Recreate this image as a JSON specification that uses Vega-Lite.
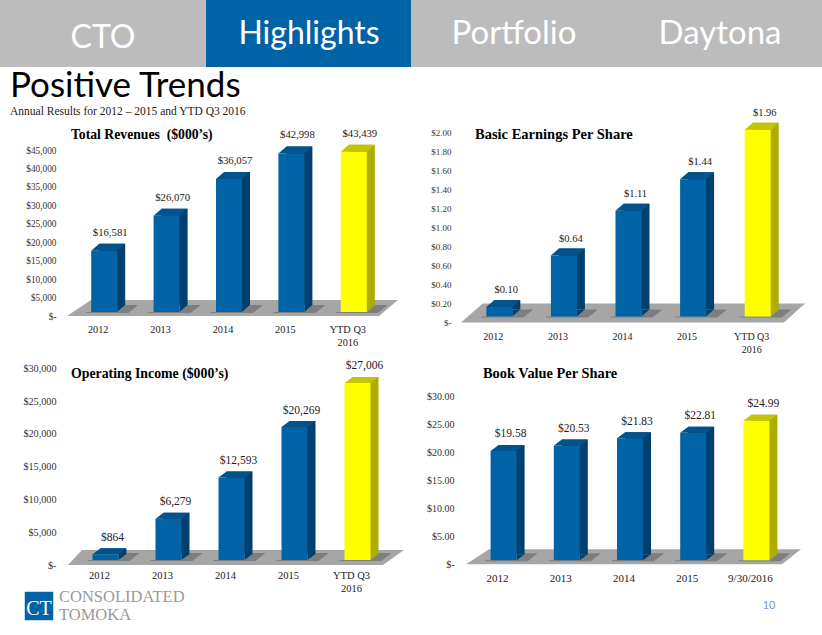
{
"$schema":"https://vega.github.io/schema/vega-lite/v6.json",
"background":"white","padding":0,"spacing":0,"bounds":"flush","align":"each","columns":2,
"config":{"view":{"stroke":null},"font":"Liberation Serif"},
"datasets":{
"navL":[{"tab":"CTO","active":false,"row":"nav"},{"tab":"Highlights","active":true,"row":"nav"}],
"navR":[{"tab":"Portfolio","active":false,"row":"nav"},{"tab":"Daytona","active":false,"row":"nav"}],
"rev":[{"period":"2012","value":16581,"ytd":false},{"period":"2013","value":26070,"ytd":false},{"period":"2014","value":36057,"ytd":false},{"period":"2015","value":42998,"ytd":false},{"period":"YTD Q3 2016","value":43439,"ytd":true}],
"eps":[{"period":"2012","value":0.10,"ytd":false},{"period":"2013","value":0.64,"ytd":false},{"period":"2014","value":1.11,"ytd":false},{"period":"2015","value":1.44,"ytd":false},{"period":"YTD Q3 2016","value":1.96,"ytd":true}],
"inc":[{"period":"2012","value":864,"ytd":false},{"period":"2013","value":6279,"ytd":false},{"period":"2014","value":12593,"ytd":false},{"period":"2015","value":20269,"ytd":false},{"period":"YTD Q3 2016","value":27006,"ytd":true}],
"bvs":[{"period":"2012","value":19.58,"ytd":false},{"period":"2013","value":20.53,"ytd":false},{"period":"2014","value":21.83,"ytd":false},{"period":"2015","value":22.81,"ytd":false},{"period":"9/30/2016","value":24.99,"ytd":true}],
"logo":[{"part":"CT","line":"mid","text":"CT"},{"part":"name","line":"top","text":"CONSOLIDATED"},{"part":"name","line":"bottom","text":"TOMOKA"}],
"page":[{"part":"page","text":"10"}]
},
"concat":[
{"width":411,"height":67,"data":{"name":"navL"},
"title":{"text":"Positive Trends","subtitle":"Annual Results for 2012 – 2015 and YTD Q3 2016","orient":"bottom","anchor":"start","frame":"group","dx":10,"offset":2,"font":"Lato","fontSize":35,"fontWeight":"normal","color":"#000000","subtitleFont":"Liberation Serif","subtitleFontSize":11.5,"subtitleColor":"#222222","subtitlePadding":2},
"encoding":{"x":{"field":"tab","type":"nominal","sort":null,"axis":null,"scale":{"range":[0,412],"paddingInner":0,"paddingOuter":0}},"y":{"field":"row","type":"nominal","axis":null,"scale":{"range":[0,67],"paddingInner":0,"paddingOuter":0}}},
"layer":[
{"mark":{"type":"bar","width":{"band":1},"height":{"band":1}},"encoding":{"color":{"condition":{"test":"datum.active","value":"#0063a6"},"value":"#bcbcbc"}}},
{"mark":{"type":"text","font":"Lato","fontSize":32,"color":"#ffffff","baseline":"middle"},"transform":[{"filter":"datum.tab==='CTO'"}],"encoding":{"text":{"field":"tab"},"y":{"field":"row","type":"nominal","axis":null,"bandPosition":0.57}}},
{"mark":{"type":"text","font":"Lato","fontSize":32,"color":"#ffffff","baseline":"middle"},"transform":[{"filter":"datum.tab!=='CTO'"}],"encoding":{"text":{"field":"tab"}}}
]},
{"width":411,"height":67,"data":{"name":"navR"},
"encoding":{"x":{"field":"tab","type":"nominal","sort":null,"axis":null,"scale":{"range":[0,412],"paddingInner":0,"paddingOuter":0}},"y":{"field":"row","type":"nominal","axis":null,"scale":{"range":[0,67],"paddingInner":0,"paddingOuter":0}}},
"layer":[
{"mark":{"type":"bar","width":{"band":1},"height":{"band":1},"color":"#bcbcbc"}},
{"mark":{"type":"text","font":"Lato","fontSize":33,"color":"#ffffff","baseline":"middle"},"encoding":{"text":{"field":"tab"}}}
]},
{"width":411,"height":273,"data":{"name":"rev"},
"title":{"text":"Total Revenues \u00a0($000’s)","anchor":"start","frame":"group","dx":71,"offset":-75,"font":"Liberation Serif","fontSize":13.7,"fontWeight":"bold","color":"#000000"},
"encoding":{
"x":{"field":"period","type":"nominal","sort":null,"title":null,"scale":{"range":[67,379],"paddingInner":0,"paddingOuter":0},"axis":{"orient":"bottom","offset":-16,"domain":false,"ticks":false,"labelPadding":0,"labelAngle":0,"labelBaseline":"top","labelFontSize":10.3,"labelColor":"#222222","labelLineHeight":13,"labelOverlap":false,"labelExpr":"datum.value==='YTD Q3 2016'?['YTD Q3','2016']:datum.value"}},
"y":{"field":"value","type":"quantitative","title":null,"scale":{"domain":[0,45000],"range":[249,83],"nice":false},"axis":{"offset":-56,"domain":false,"ticks":false,"grid":false,"labelPadding":0,"labelFontSize":9.3,"labelColor":"#333333","values":[0,5000,10000,15000,20000,25000,30000,35000,40000,45000],"labelExpr":"datum.value===0?'$-\u00a0\u00a0\u00a0':format(datum.value,'$,.0f')"}}},
"layer":[
{"transform":[{"filter":"datum.period==='2012'"}],"mark":{"type":"point","filled":true,"opacity":1,"size":4,"strokeWidth":0,"color":"#a6a6a6","shape":"M-31.2,0 L280.8,0 L299.8,-16 L-7.2,-16 Z"},"encoding":{"y":{"datum":0,"title":null}}},
{"mark":{"type":"point","filled":true,"opacity":1,"size":4,"strokeWidth":0,"color":"#7e7e7e","xOffset":6,"yOffset":-4,"shape":"M-18,0 L13,0 L21,-7 L34,-7 L24,1 L-18,1 Z"},"encoding":{"y":{"datum":0,"title":null}}},
{"mark":{"type":"bar","width":26,"xOffset":14,"yOffset":-11},"encoding":{"color":{"condition":{"test":"datum.ytd","value":"#adad00"},"value":"#00406e"}}},
{"mark":{"type":"point","filled":true,"opacity":1,"size":4,"strokeWidth":0,"xOffset":6,"yOffset":-4,"shape":"M13,0 L21,-7 L13,-7 Z"},"encoding":{"y":{"datum":0,"title":null},"color":{"condition":{"test":"datum.ytd","value":"#adad00"},"value":"#00406e"}}},
{"mark":{"type":"bar","width":26,"xOffset":6,"yOffset":-4},"encoding":{"color":{"condition":{"test":"datum.ytd","value":"#ffff00"},"value":"#0063a6"}}},
{"mark":{"type":"point","filled":true,"opacity":1,"size":4,"strokeWidth":0,"xOffset":6,"yOffset":-4,"shape":"M-13,0 L13,0 L21,-7 L-5,-7 Z"},"encoding":{"color":{"condition":{"test":"datum.ytd","value":"#c4c400"},"value":"#00538c"}}},
{"mark":{"type":"text","fontSize":10.7,"color":"#222222","baseline":"middle","xOffset":12,"yOffset":-22},"encoding":{"text":{"field":"value","type":"quantitative","format":"$,.0f"}}}
]},
{"width":411,"height":273,"data":{"name":"eps"},
"title":{"text":"Basic Earnings Per Share","anchor":"start","frame":"group","dx":64,"offset":-75,"font":"Liberation Serif","fontSize":14.5,"fontWeight":"bold","color":"#000000"},
"encoding":{
"x":{"field":"period","type":"nominal","sort":null,"title":null,"scale":{"range":[50,373],"paddingInner":0,"paddingOuter":0},"axis":{"orient":"bottom","offset":-9,"domain":false,"ticks":false,"labelPadding":0,"labelAngle":0,"labelBaseline":"top","labelFontSize":10,"labelColor":"#222222","labelLineHeight":13,"labelOverlap":false,"labelExpr":"datum.value==='YTD Q3 2016'?['YTD Q3','2016']:datum.value"}},
"y":{"field":"value","type":"quantitative","title":null,"scale":{"domain":[0,2],"range":[255.5,65],"nice":false},"axis":{"offset":-40,"domain":false,"ticks":false,"grid":false,"labelPadding":0,"labelFontSize":9,"labelColor":"#333333","values":[0,0.2,0.4,0.6,0.8,1,1.2,1.4,1.6,1.8,2],"labelExpr":"datum.value===0?'$-\u00a0\u00a0\u00a0':format(datum.value,'$.2f')"}}},
"layer":[
{"transform":[{"filter":"datum.period==='2012'"}],"mark":{"type":"point","filled":true,"opacity":1,"size":4,"strokeWidth":0,"color":"#a6a6a6","shape":"M-32.3,0 L290.7,0 L311.7,-19 L-10.6,-19 Z"},"encoding":{"y":{"datum":0,"title":null}}},
{"mark":{"type":"point","filled":true,"opacity":1,"size":4,"strokeWidth":0,"color":"#7e7e7e","xOffset":6,"yOffset":-6,"shape":"M-18,0 L13,0 L21,-7 L34,-7 L24,1 L-18,1 Z"},"encoding":{"y":{"datum":0,"title":null}}},
{"mark":{"type":"bar","width":26,"xOffset":14,"yOffset":-13},"encoding":{"color":{"condition":{"test":"datum.ytd","value":"#adad00"},"value":"#00406e"}}},
{"mark":{"type":"point","filled":true,"opacity":1,"size":4,"strokeWidth":0,"xOffset":6,"yOffset":-6,"shape":"M13,0 L21,-7 L13,-7 Z"},"encoding":{"y":{"datum":0,"title":null},"color":{"condition":{"test":"datum.ytd","value":"#adad00"},"value":"#00406e"}}},
{"mark":{"type":"bar","width":26,"xOffset":6,"yOffset":-6},"encoding":{"color":{"condition":{"test":"datum.ytd","value":"#ffff00"},"value":"#0063a6"}}},
{"mark":{"type":"point","filled":true,"opacity":1,"size":4,"strokeWidth":0,"xOffset":6,"yOffset":-6,"shape":"M-13,0 L13,0 L21,-7 L-5,-7 Z"},"encoding":{"color":{"condition":{"test":"datum.ytd","value":"#c4c400"},"value":"#00538c"}}},
{"mark":{"type":"text","fontSize":10.5,"color":"#222222","baseline":"middle","xOffset":13,"yOffset":-23},"encoding":{"text":{"field":"value","type":"quantitative","format":"$.2f"}}}
]},
{"width":411,"height":245,"data":{"name":"inc"},
"title":{"text":"Operating Income ($000’s)","anchor":"start","frame":"group","dx":71,"offset":-41,"font":"Liberation Serif","fontSize":13.8,"fontWeight":"bold","color":"#000000"},
"encoding":{
"x":{"field":"period","type":"nominal","sort":null,"title":null,"scale":{"range":[68,383],"paddingInner":0,"paddingOuter":0},"axis":{"orient":"bottom","offset":-15,"domain":false,"ticks":false,"labelPadding":0,"labelAngle":0,"labelBaseline":"top","labelFontSize":10.5,"labelColor":"#222222","labelLineHeight":13,"labelOverlap":false,"labelExpr":"datum.value==='YTD Q3 2016'?['YTD Q3','2016']:datum.value"}},
"y":{"field":"value","type":"quantitative","title":null,"scale":{"domain":[0,30000],"range":[225,28.3],"nice":false},"axis":{"offset":-56,"domain":false,"ticks":false,"grid":false,"labelPadding":0,"labelFontSize":10.2,"labelColor":"#333333","values":[0,5000,10000,15000,20000,25000,30000],"labelExpr":"datum.value===0?'$-\u00a0\u00a0\u00a0':format(datum.value,'$,.0f')"}}},
"layer":[
{"transform":[{"filter":"datum.period==='2012'"}],"mark":{"type":"point","filled":true,"opacity":1,"size":4,"strokeWidth":0,"color":"#a6a6a6","shape":"M-31.5,0 L283.5,0 L304.5,-15 L-17.5,-15 Z"},"encoding":{"y":{"datum":0,"title":null}}},
{"mark":{"type":"point","filled":true,"opacity":1,"size":4,"strokeWidth":0,"color":"#7e7e7e","xOffset":6,"yOffset":-5,"shape":"M-18,0 L13,0 L21,-7 L34,-7 L24,1 L-18,1 Z"},"encoding":{"y":{"datum":0,"title":null}}},
{"mark":{"type":"bar","width":26,"xOffset":14,"yOffset":-11},"encoding":{"color":{"condition":{"test":"datum.ytd","value":"#adad00"},"value":"#00406e"}}},
{"mark":{"type":"point","filled":true,"opacity":1,"size":4,"strokeWidth":0,"xOffset":6,"yOffset":-5,"shape":"M13,0 L21,-6 L13,-6 Z"},"encoding":{"y":{"datum":0,"title":null},"color":{"condition":{"test":"datum.ytd","value":"#adad00"},"value":"#00406e"}}},
{"mark":{"type":"bar","width":26,"xOffset":6,"yOffset":-5},"encoding":{"color":{"condition":{"test":"datum.ytd","value":"#ffff00"},"value":"#0063a6"}}},
{"mark":{"type":"point","filled":true,"opacity":1,"size":4,"strokeWidth":0,"xOffset":6,"yOffset":-5,"shape":"M-13,0 L13,0 L21,-6 L-5,-6 Z"},"encoding":{"color":{"condition":{"test":"datum.ytd","value":"#c4c400"},"value":"#00538c"}}},
{"mark":{"type":"text","fontSize":11.5,"color":"#222222","baseline":"middle","xOffset":13,"yOffset":-21.5},"encoding":{"text":{"field":"value","type":"quantitative","format":"$,.0f"}}}
]},
{"width":411,"height":245,"data":{"name":"bvs"},
"title":{"text":"Book Value Per Share","anchor":"start","frame":"group","dx":72,"offset":-41,"font":"Liberation Serif","fontSize":14.4,"fontWeight":"bold","color":"#000000"},
"encoding":{
"x":{"field":"period","type":"nominal","sort":null,"title":null,"scale":{"range":[55,371],"paddingInner":0,"paddingOuter":0},"axis":{"orient":"bottom","offset":-13,"domain":false,"ticks":false,"labelPadding":0,"labelAngle":0,"labelBaseline":"top","labelFontSize":11,"labelColor":"#222222","labelOverlap":false}},
"y":{"field":"value","type":"quantitative","title":null,"scale":{"domain":[0,30],"range":[224.3,56.7],"nice":false},"axis":{"offset":-43,"domain":false,"ticks":false,"grid":false,"labelPadding":0,"labelFontSize":10,"labelColor":"#333333","values":[0,5,10,15,20,25,30],"labelExpr":"datum.value===0?'$-\u00a0\u00a0\u00a0':format(datum.value,'$.2f')"}}},
"layer":[
{"transform":[{"filter":"datum.period==='2012'"}],"mark":{"type":"point","filled":true,"opacity":1,"size":4,"strokeWidth":0,"color":"#a6a6a6","shape":"M-31.6,0 L284.4,0 L303.4,-15 L-8.6,-15 Z"},"encoding":{"y":{"datum":0,"title":null}}},
{"mark":{"type":"point","filled":true,"opacity":1,"size":4,"strokeWidth":0,"color":"#7e7e7e","xOffset":6,"yOffset":-4,"shape":"M-18,0 L13,0 L21,-7 L34,-7 L24,1 L-18,1 Z"},"encoding":{"y":{"datum":0,"title":null}}},
{"mark":{"type":"bar","width":26,"xOffset":14,"yOffset":-10},"encoding":{"color":{"condition":{"test":"datum.ytd","value":"#adad00"},"value":"#00406e"}}},
{"mark":{"type":"point","filled":true,"opacity":1,"size":4,"strokeWidth":0,"xOffset":6,"yOffset":-4,"shape":"M13,0 L21,-6 L13,-6 Z"},"encoding":{"y":{"datum":0,"title":null},"color":{"condition":{"test":"datum.ytd","value":"#adad00"},"value":"#00406e"}}},
{"mark":{"type":"bar","width":26,"xOffset":6,"yOffset":-4},"encoding":{"color":{"condition":{"test":"datum.ytd","value":"#ffff00"},"value":"#0063a6"}}},
{"mark":{"type":"point","filled":true,"opacity":1,"size":4,"strokeWidth":0,"xOffset":6,"yOffset":-4,"shape":"M-13,0 L13,0 L21,-6 L-5,-6 Z"},"encoding":{"color":{"condition":{"test":"datum.ytd","value":"#c4c400"},"value":"#00538c"}}},
{"mark":{"type":"text","fontSize":11.5,"color":"#222222","baseline":"middle","xOffset":13,"yOffset":-20.5},"encoding":{"text":{"field":"value","type":"quantitative","format":"$.2f"}}}
]},
{"width":411,"height":50,"data":{"name":"logo"},
"encoding":{"x":{"field":"part","type":"nominal","axis":null,"scale":{"type":"point","padding":0,"domain":["CT","name"],"range":[39,59]}},"y":{"field":"line","type":"nominal","axis":null,"scale":{"type":"point","padding":0,"domain":["top","mid","bottom"],"range":[12,30]}}},
"layer":[
{"transform":[{"filter":"datum.part==='CT'"}],"mark":{"type":"point","shape":"square","filled":true,"opacity":1,"size":810,"strokeWidth":0,"color":"#0063a6"}},
{"transform":[{"filter":"datum.part==='CT'"}],"mark":{"type":"text","font":"Liberation Serif","fontSize":20,"color":"#ffffff","baseline":"middle","yOffset":3},"encoding":{"text":{"field":"text"}}},
{"transform":[{"filter":"datum.part==='name'"}],"mark":{"type":"text","font":"Liberation Serif","fontSize":16.5,"color":"#9a9a9a","align":"left","baseline":"middle"},"encoding":{"text":{"field":"text"}}}
]},
{"width":411,"height":50,"data":{"name":"page"},
"mark":{"type":"text","font":"Lato","fontSize":11,"color":"#7a97c9","baseline":"middle"},
"encoding":{"x":{"field":"part","type":"nominal","axis":null,"scale":{"type":"point","range":[358,358]}},"y":{"field":"part","type":"nominal","axis":null,"scale":{"type":"point","range":[20.7,20.7]}},"text":{"field":"text"}}}
]}
